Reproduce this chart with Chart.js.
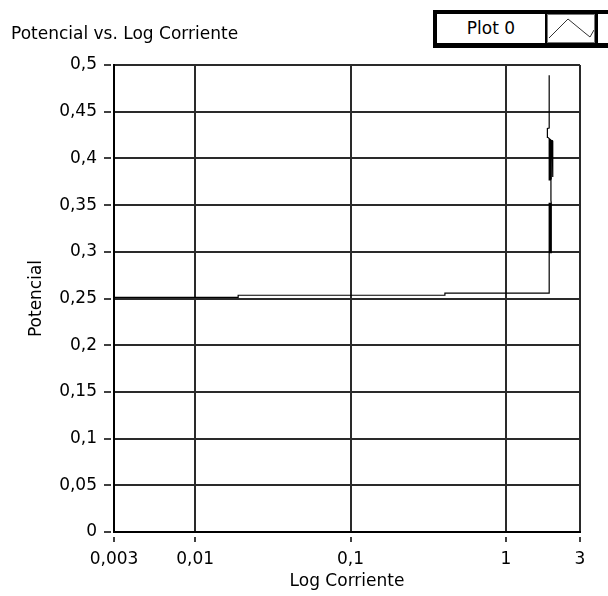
<!DOCTYPE html>
<html>
<head>
<meta charset="utf-8">
<title>Potencial vs. Log Corriente</title>
<script src="https://cdn.jsdelivr.net/npm/chart.js@4.4.1/dist/chart.umd.min.js"></script>
<style>
    html, body { margin: 0; padding: 0; background: #fff; overflow: hidden; }
    #wrap { position: relative; width: 608px; height: 596px; }
    #chart { position: absolute; left: 0; top: 0; }
    .txt { font-family: "DejaVu Sans", sans-serif; font-size: 17px; color: #000; }
    #title { position: absolute; left: 11px; top: 23px; line-height: 20px; white-space: nowrap; }
    #legend { position: absolute; left: 433px; top: 10px; width: 180px; height: 38px; background: #000; }
    #legend .cell { position: absolute; top: 4px; height: 29px; background: #fff; box-sizing: border-box; }
    #legend .name { left: 4px; width: 108px; text-align: center; line-height: 29px; }
    #legend .icon { left: 114px; width: 48px; border: 1px solid #777; }
    #legend .rest { left: 165px; width: 20px; }
</style>
</head>
<body>
<div id="wrap">
    <canvas id="chart" width="608" height="596"></canvas>
    <div id="title" class="txt">Potencial vs. Log Corriente</div>
    <div id="legend">
        <div class="cell name txt">Plot 0</div>
        <div class="cell icon">
            <svg width="46" height="27" viewBox="0 0 46 27">
                <polyline points="1,23 20,4 37,18 42,22 46,15" fill="none" stroke="#333" stroke-width="1"/>
            </svg>
        </div>
        <div class="cell rest"></div>
    </div>
</div>
<script>
// Curve values (x = corriente, y = potencial)
// the two noisy stretches near x = 1.9 are drawn as back-and-forth passes
var corriente = [
    0.003, 0.0189, 0.0189, 0.405, 0.405, 1.90,
    1.90, 1.93, 1.93, 1.96, 1.96,
    1.95, 1.95,
    1.90, 1.90, 1.93, 1.93, 1.96, 1.96, 1.99, 1.99, 2.01, 2.01,
    1.86, 1.84, 1.86, 1.90, 1.90
];
var potencial = [
    0.2512, 0.2512, 0.2535, 0.2535, 0.2557, 0.2557,
    0.352, 0.352, 0.299, 0.299, 0.352,
    0.355, 0.377,
    0.377, 0.420, 0.420, 0.378, 0.378, 0.419, 0.419, 0.380, 0.381, 0.418,
    0.4225, 0.427, 0.432, 0.4325, 0.489
];

var xTicks = [0.003, 0.01, 0.1, 1, 3];
var xTickLabels = ['0,003', '0,01', '0,1', '1', '3'];
var yTicks = [0, 0.05, 0.1, 0.15, 0.2, 0.25, 0.3, 0.35, 0.4, 0.45, 0.5];
var yTickLabels = ['0', '0,05', '0,1', '0,15', '0,2', '0,25', '0,3', '0,35', '0,4', '0,45', '0,5'];

var points = corriente.map(function (c, i) {
    return { x: c, y: potencial[i] };
});

var font = { family: '"DejaVu Sans", sans-serif', size: 17 };

var ctx = document.getElementById('chart').getContext('2d');
var chart = new Chart(ctx, {
    type: 'line',
    data: {
        datasets: [{
            label: 'Plot 0',
            data: points,
            borderColor: '#000',
            borderWidth: 1.2,
            pointRadius: 0,
            tension: 0,
            fill: false
        }]
    },
    options: {
        responsive: false,
        animation: false,
        layout: { padding: { top: 65, right: 28, left: 0, bottom: 0 } },
        plugins: {
            legend: { display: false },
            tooltip: { enabled: false }
        },
        scales: {
            x: {
                type: 'logarithmic',
                min: 0.003,
                max: 3,
                afterBuildTicks: function (scale) {
                    scale.ticks = xTicks.map(function (v) { return { value: v }; });
                },
                afterFit: function (scale) { scale.height = 64; },
                ticks: {
                    color: '#000',
                    font: font,
                    padding: 7,
                    maxRotation: 0,
                    autoSkip: false,
                    callback: function (value, index) { return xTickLabels[index]; }
                },
                grid: {
                    color: '#2a2a2a',
                    lineWidth: 2,
                    tickLength: 10,
                    tickColor: '#000',
                    tickWidth: 1.5,
                    tickBorderDash: [6, 4],
                    tickBorderDashOffset: 6
                },
                border: { color: '#000', width: 2 },
                title: {
                    display: true,
                    text: 'Log Corriente',
                    color: '#000',
                    font: font,
                    padding: { top: 0, bottom: 4 }
                }
            },
            y: {
                type: 'linear',
                min: 0,
                max: 0.5,
                afterBuildTicks: function (scale) {
                    scale.ticks = yTicks.map(function (v) { return { value: v }; });
                },
                afterFit: function (scale) { scale.width = 114; },
                ticks: {
                    color: '#000',
                    font: font,
                    padding: 7,
                    callback: function (value, index) { return yTickLabels[index]; }
                },
                grid: {
                    color: '#2a2a2a',
                    lineWidth: 2,
                    tickLength: 10,
                    tickColor: '#000',
                    tickWidth: 1.5,
                    tickBorderDash: [7, 3]
                },
                border: { color: '#000', width: 2 },
                title: {
                    display: true,
                    text: 'Potencial',
                    color: '#000',
                    font: font,
                    padding: { top: 26, bottom: 0 }
                }
            }
        }
    }
});
</script>
</body>
</html>
